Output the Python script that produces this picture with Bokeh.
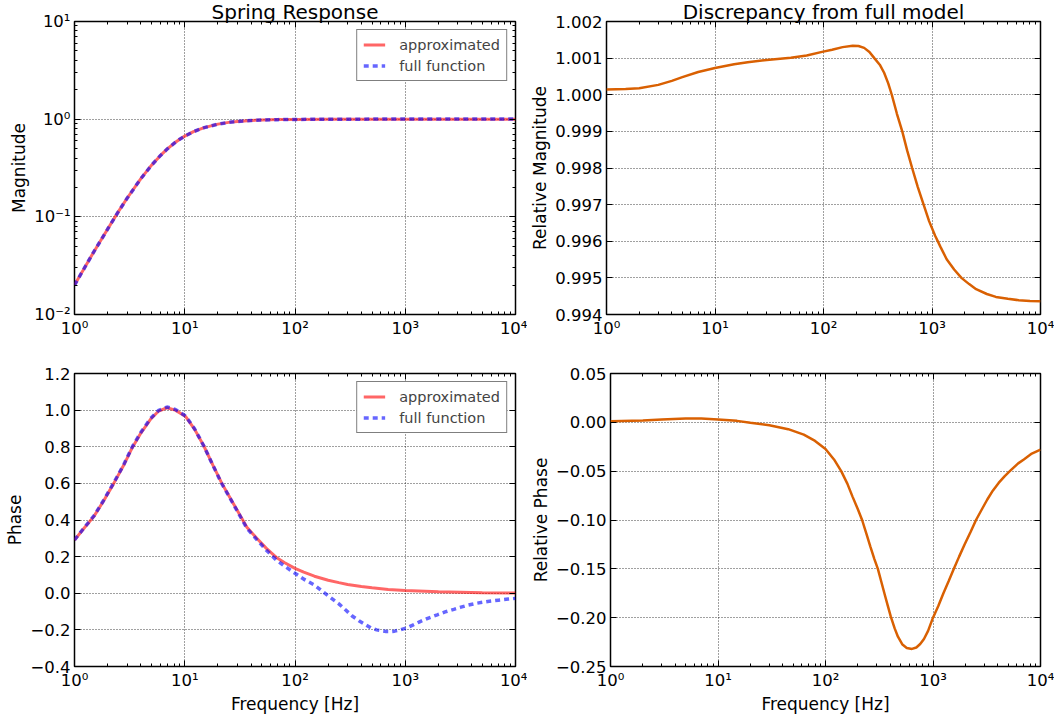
from bokeh.plotting import figure
from bokeh.models import (LogAxis, LinearAxis, FixedTicker,
                          CustomJSTickFormatter, Legend, LegendItem, Range1d)
from bokeh.layouts import column, row
from bokeh.embed import file_html
from bokeh.resources import INLINE

FONT = "DejaVu Sans"

# ---------------- data ----------------
x_major = [1, 10, 100, 1000, 10000]
x_minor = [k * 10 ** d for d in range(4) for k in range(2, 10)]
mag_major = [0.01, 0.1, 1, 10]
mag_minor = [k * 10.0 ** d for d in (-2, -1, 0) for k in range(2, 10)]
relmag_ticks = [0.994, 0.995, 0.996, 0.997, 0.998, 0.999, 1.000, 1.001, 1.002]
phase_ticks = [-0.4, -0.2, 0.0, 0.2, 0.4, 0.6, 0.8, 1.0, 1.2]
relph_ticks = [-0.25, -0.20, -0.15, -0.10, -0.05, 0.0, 0.05]

mag_freq = [1, 1.5, 2, 2.5, 3, 4, 5, 6, 7, 8, 9, 10, 12, 15, 20, 25, 30, 40, 50, 70,
            100, 200, 1000, 10000]
mag_approx = [0.020, 0.044, 0.075, 0.113, 0.155, 0.246, 0.338, 0.423, 0.50, 0.566,
              0.623, 0.67, 0.746, 0.82, 0.89, 0.927, 0.948, 0.97, 0.981, 0.990,
              0.995, 0.999, 1.0, 1.0]
mag_full = [0.020, 0.044, 0.075, 0.113, 0.155, 0.246, 0.338, 0.423, 0.50, 0.566,
            0.623, 0.669, 0.745, 0.819, 0.889, 0.926, 0.947, 0.969, 0.980, 0.989,
            0.994, 0.998, 1.004, 1.006]

phase_freq = [1, 1.22, 1.5, 1.84, 2.27, 2.8, 3.34, 4.0, 4.89, 5.8, 6.9, 8.2, 10.2, 12.3,
              14.9, 18, 21.7, 27, 36.6, 45, 55, 67.3, 80, 100, 120, 150, 200, 250, 300,
              400, 500, 700, 1000, 2000, 5000, 10000]
phase_approx = [0.29, 0.355, 0.42, 0.505, 0.60, 0.70, 0.795, 0.875, 0.95, 0.995, 1.013,
                1.0, 0.965, 0.895, 0.804, 0.70, 0.60, 0.50, 0.36, 0.30, 0.245, 0.197,
                0.168, 0.136, 0.115, 0.093, 0.071, 0.058, 0.048, 0.037, 0.03, 0.021,
                0.015, 0.008, 0.003, 0.0015]

full_freq = [1, 1.22, 1.5, 1.84, 2.27, 2.8, 3.34, 4.0, 4.89, 5.8, 6.9, 8.2, 10.2, 12.3,
             14.9, 18, 21.7, 27, 36.6, 45, 55, 67.3, 80, 100, 120, 150, 200, 250, 290,
             330, 380, 438, 490, 550, 610, 670, 740, 800, 900, 1020, 1170, 1350, 1600,
             1950, 2300, 2760, 3200, 3660, 4500, 5600, 7000, 8600, 10000]
phase_full = [0.291, 0.357, 0.422, 0.508, 0.603, 0.703, 0.799, 0.879, 0.954, 0.999, 1.017,
              1.004, 0.968, 0.897, 0.804, 0.699, 0.598, 0.497, 0.355, 0.293, 0.235, 0.183,
              0.149, 0.109, 0.077, 0.045, -0.014, -0.058, -0.093, -0.124, -0.150,
              -0.172, -0.190, -0.200, -0.205, -0.209, -0.209, -0.207, -0.200, -0.190,
              -0.174, -0.156, -0.137, -0.118, -0.102, -0.088, -0.076, -0.066, -0.054,
              -0.045, -0.038, -0.032, -0.028]

relmag_freq = [1, 1.5, 2, 3, 4, 5, 7, 10, 15, 20, 30, 50, 70, 97, 120, 150, 186, 210, 237,
               265, 294, 330, 362, 395, 426, 475, 532, 590, 656, 740, 837, 940, 1069,
               1200, 1365, 1600, 1867, 2200, 2550, 3200, 3880, 5000, 6300, 8000, 10000]
relmag = [1.000145, 1.00016, 1.00018, 1.00027, 1.00038, 1.00048, 1.00062, 1.00073,
          1.00083, 1.00089, 1.00095, 1.00101, 1.00107, 1.00117, 1.00123, 1.00130,
          1.00134, 1.00133, 1.00128, 1.00117, 1.0010, 1.00082, 1.0006, 1.00031, 1.0000,
          0.99948, 0.9990, 0.99848, 0.9980, 0.99748, 0.9970, 0.99655, 0.99615, 0.99584,
          0.99551, 0.99523, 0.9950, 0.99483, 0.99469, 0.99456, 0.99448, 0.99443,
          0.99439, 0.99437, 0.99436]

relph_freq = [1, 2, 3, 5, 7, 10, 15, 20, 30, 45, 62.8, 80, 100, 120, 140, 160, 178, 200,
              219, 240, 261, 285, 307, 330, 357, 380, 405, 440, 472, 520, 570, 637, 700,
              760, 824, 900, 1000, 1120, 1250, 1400, 1563, 1750, 1967, 2230, 2513, 2850,
              3200, 3600, 4080, 4650, 5300, 6200, 7000, 8300, 10000]
relphase = [0.001, 0.002, 0.003, 0.004, 0.004, 0.003, 0.0015, -0.0005, -0.003, -0.007,
            -0.0126, -0.019, -0.0273, -0.038, -0.05, -0.063, -0.0758, -0.089, -0.10,
            -0.114, -0.127, -0.14, -0.150, -0.163, -0.177, -0.188, -0.199, -0.211,
            -0.2195, -0.2275, -0.231, -0.232, -0.2305, -0.227, -0.2218, -0.2135, -0.20,
            -0.188, -0.175, -0.1625, -0.15, -0.1375, -0.125, -0.1125, -0.10, -0.089,
            -0.079, -0.070, -0.062, -0.055, -0.049, -0.042, -0.038, -0.032, -0.028]

# ---------------- helpers ----------------
sup_fmt = CustomJSTickFormatter(code="""
const m = {'-':'\u207b','0':'\u2070','1':'\u00b9','2':'\u00b2','3':'\u00b3','4':'\u2074',
           '5':'\u2075','6':'\u2076','7':'\u2077','8':'\u2078','9':'\u2079'};
const e = Math.round(Math.log10(tick));
return '10' + String(e).split('').map(c => m[c]).join('');
""")


def dec_fmt(n):
    return CustomJSTickFormatter(args=dict(n=n), code="""
let v = Math.abs(tick) < 1e-9 ? 0 : tick;
return v.toFixed(n).replace('-', '\u2212');
""")


def blank_fmt():
    return CustomJSTickFormatter(code="return '';")


def style_axis(ax, minor=True, label=None):
    ax.axis_line_color = None
    ax.major_tick_in = 6
    ax.major_tick_out = 0
    ax.major_tick_line_color = "black"
    ax.major_tick_line_width = 1
    ax.minor_tick_in = 3
    ax.minor_tick_out = 0
    ax.minor_tick_line_color = "black" if minor else None
    ax.major_label_text_font = FONT
    ax.major_label_text_font_size = "16.5px"
    ax.major_label_text_color = "black"
    ax.axis_label_text_font = FONT
    ax.axis_label_text_font_size = "17px"
    ax.axis_label_text_font_style = "normal"
    ax.axis_label_text_color = "black"
    if label:
        ax.axis_label = label


def make_fig(width, height, ylog, yr, mb, title=None):
    p = figure(width=width, height=height, x_axis_type="log",
               y_axis_type="log" if ylog else "linear",
               x_range=Range1d(1, 10000), y_range=Range1d(*yr),
               output_backend="svg", toolbar_location=None,
               min_border_left=mb[0], min_border_right=mb[1],
               min_border_top=mb[2], min_border_bottom=mb[3])
    if title:
        p.title.text = title
        p.title.align = "center"
        p.title.text_font = FONT
        p.title.text_font_size = "20px"
        p.title.text_font_style = "normal"
        p.title.text_color = "black"
        p.title.standoff = -5
    p.outline_line_color = "black"
    p.outline_line_width = 1.5
    p.grid.grid_line_color = "black"
    p.grid.grid_line_dash = "1 2"
    p.grid.grid_line_width = 1
    p.grid.grid_line_alpha = 0.75
    return p


def set_x(p, xlabel=None):
    ax = p.xaxis[0]
    ax.ticker = FixedTicker(ticks=x_major, minor_ticks=x_minor)
    ax.formatter = sup_fmt
    ax.major_label_standoff = 4
    ax.axis_label_standoff = 1
    style_axis(ax, True, xlabel)
    top = LogAxis(ticker=FixedTicker(ticks=x_major, minor_ticks=x_minor),
                  formatter=blank_fmt(), major_label_standoff=0)
    style_axis(top, True)
    p.add_layout(top, "above")


def set_y(p, ticks, fmt, label, ylog=False):
    ax = p.yaxis[0]
    if ylog:
        ax.ticker = FixedTicker(ticks=ticks, minor_ticks=mag_minor)
    else:
        ax.ticker = FixedTicker(ticks=ticks)
    ax.formatter = fmt
    ax.major_label_standoff = 4
    ax.axis_label_standoff = 2
    style_axis(ax, ylog, label)
    if ylog:
        rt = LogAxis(ticker=FixedTicker(ticks=ticks, minor_ticks=mag_minor),
                     formatter=blank_fmt(), major_label_standoff=0)
    else:
        rt = LinearAxis(ticker=FixedTicker(ticks=ticks), formatter=blank_fmt(),
                        major_label_standoff=0)
    style_axis(rt, ylog)
    p.add_layout(rt, "right")


def add_legend(p, r1, r2):
    leg = Legend(items=[LegendItem(label="approximated", renderers=[r1]),
                        LegendItem(label="full function", renderers=[r2])],
                 location="top_right")
    leg.border_line_color = "black"
    leg.border_line_width = 1
    leg.background_fill_color = "white"
    leg.background_fill_alpha = 1
    leg.label_text_font = FONT
    leg.label_text_font_size = "14.5px"
    leg.glyph_width = 22
    leg.glyph_height = 17
    leg.label_height = 17
    leg.label_standoff = 14
    leg.spacing = 4
    leg.padding = 6
    leg.margin = 8
    p.add_layout(leg)


ORANGE = "#d96002"
W1, W2 = 527, 527
H1, H2 = 363, 353

# ---------------- top-left: magnitude ----------------
p1 = make_fig(W1, H1, True, (0.01, 10), (74, 12, 0, 49), "Spring Response")
set_x(p1)
set_y(p1, mag_major, sup_fmt, "Magnitude", ylog=True)
a1 = p1.line(mag_freq, mag_approx, line_color="red", line_alpha=0.6, line_width=3)
b1 = p1.line(mag_freq, mag_full, line_color="blue", line_alpha=0.6, line_width=3.5,
             line_dash="5 4")
add_legend(p1, a1, b1)

# ---------------- top-right: relative magnitude ----------------
p2 = make_fig(W2, H1, False, (0.994, 1.002), (79, 14, 0, 49), "Discrepancy from full model")
set_x(p2)
set_y(p2, relmag_ticks, dec_fmt(3), "Relative Magnitude")
p2.line(relmag_freq, relmag, line_color=ORANGE, line_width=2.5)

# ---------------- bottom-left: phase ----------------
p3 = make_fig(W1, H2, False, (-0.4, 1.2), (74, 12, 10, 46))
set_x(p3, "Frequency [Hz]")
set_y(p3, phase_ticks, dec_fmt(1), "Phase")
a3 = p3.line(phase_freq, phase_approx, line_color="red", line_alpha=0.6, line_width=3)
b3 = p3.line(full_freq, phase_full, line_color="blue", line_alpha=0.6, line_width=3.5,
             line_dash="5 4")
add_legend(p3, a3, b3)

# ---------------- bottom-right: relative phase ----------------
p4 = make_fig(W2, H2, False, (-0.25, 0.05), (79, 14, 10, 46))
set_x(p4, "Frequency [Hz]")
set_y(p4, relph_ticks, dec_fmt(2), "Relative Phase")
p4.line(relph_freq, relphase, line_color=ORANGE, line_width=2.5)

layout = column(row(p1, p2), row(p3, p4))
open("out.html", "w").write(file_html(layout, INLINE))
